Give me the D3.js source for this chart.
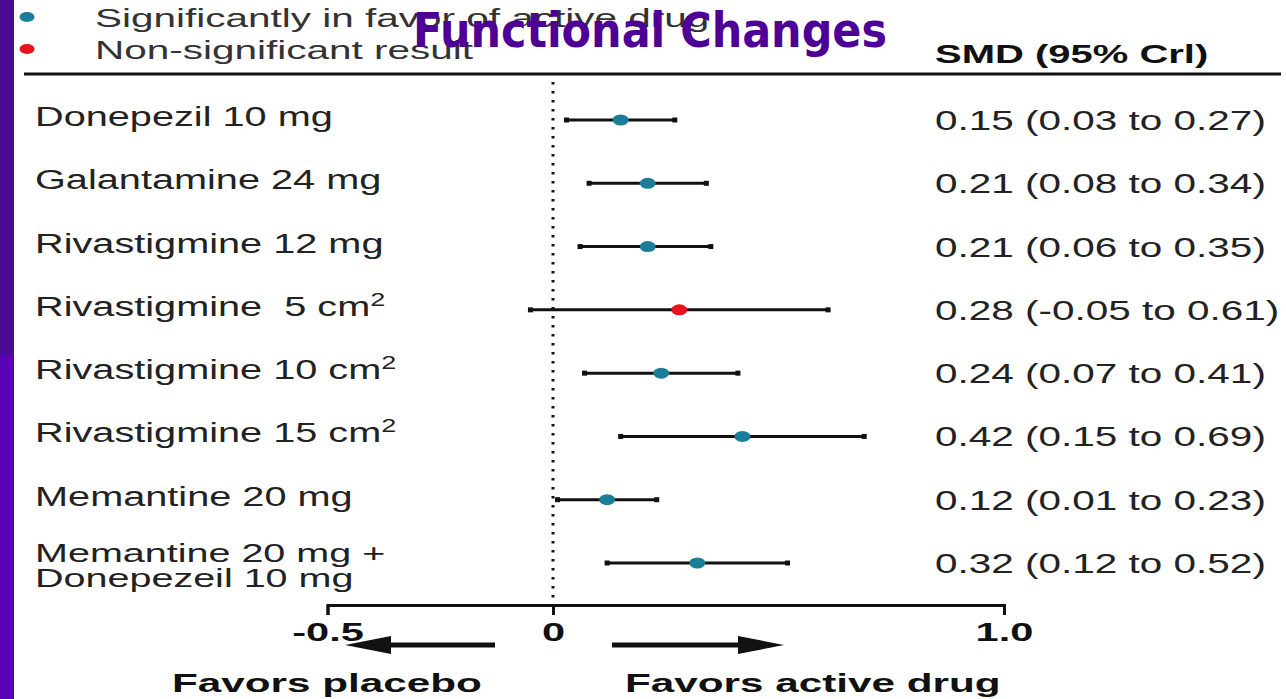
<!DOCTYPE html>
<html>
<head>
<meta charset="utf-8">
<script src="https://cdn.jsdelivr.net/npm/d3@7"></script>
<style>
  html, body { margin: 0; padding: 0; background: #fff; }
  svg { display: block; }
  text { white-space: pre; }
</style>
</head>
<body>
<svg id="chart" width="1286" height="699"></svg>
<script>
// Forest plot data: standardized mean difference with 95% credible interval
const treatments = [
  "Donepezil 10 mg",
  "Galantamine 24 mg",
  "Rivastigmine 12 mg",
  "Rivastigmine  5 cm²",
  "Rivastigmine 10 cm²",
  "Rivastigmine 15 cm²",
  "Memantine 20 mg",
  "Memantine 20 mg +|Donepezeil 10 mg"
];
const smd      = [0.15, 0.21, 0.21, 0.28, 0.24, 0.42, 0.12, 0.32];
const ciLower  = [0.03, 0.08, 0.06, -0.05, 0.07, 0.15, 0.01, 0.12];
const ciUpper  = [0.27, 0.34, 0.35, 0.61, 0.41, 0.69, 0.23, 0.52];
const significant = [true, true, true, false, true, true, true, true];
const axisTicks = [-0.5, 0, 1.0];
const axisTickLabels = ["-0.5", "0", "1.0"];
const legendLabels = ["Significantly in favor of active drug", "Non-significant result"];

const svg = d3.select("#chart");
const W = 1286, H = 699;

const TEAL = "#1b7d97", RED = "#e8121c", INK = "#222";

// side bar
svg.append("rect").attr("x", 0).attr("y", 0).attr("width", 14).attr("height", H).attr("fill", "#5a02b6");
svg.append("rect").attr("x", 0).attr("y", 0).attr("width", 14).attr("height", 355).attr("fill", "#4a0c92");

const x = d3.scaleLinear().domain([-0.5, 1.0]).range([327.5, 1004]);
const y = d3.scalePoint().domain(d3.range(treatments.length)).range([120, 563]);

// text helper: horizontally widened glyphs
function wideText(parent, px, py, str, size, sx, opts = {}) {
  const t = parent.append("text")
    .attr("transform", `translate(${px},${py}) scale(${sx},1)`)
    .attr("font-family", "'Liberation Sans', Arial, sans-serif")
    .attr("font-size", size)
    .attr("font-weight", opts.bold ? "bold" : "normal")
    .attr("fill", opts.fill || INK)
    .attr("text-anchor", opts.anchor || "start");
  const parts = str.split("²");
  parts.forEach((p, i) => {
    if (p) t.append("tspan").text(p);
    if (i < parts.length - 1) {
      t.append("tspan").attr("dy", -size * 0.38).attr("font-size", size * 0.68).text("2");
    }
  });
  return t;
}

// legend
const legend = svg.append("g");
[TEAL, RED].forEach((c, i) => {
  legend.append("ellipse").attr("cx", 27).attr("cy", 17 + i * 32).attr("rx", 7.5).attr("ry", 5).attr("fill", c);
  wideText(legend, 95, 27 + i * 32, legendLabels[i], 25, 1.62, { fill: "#333" });
});

// header
wideText(svg, 935, 63, "SMD (95% Crl)", 25, 1.6, { bold: true, fill: "#111" });
svg.append("line").attr("x1", 24).attr("x2", 1281).attr("y1", 74).attr("y2", 74)
  .attr("stroke", "#111").attr("stroke-width", 3);

// reference line at zero
svg.append("line")
  .attr("x1", x(0)).attr("x2", x(0)).attr("y1", 82).attr("y2", 602)
  .attr("stroke", "#111").attr("stroke-width", 3).attr("stroke-dasharray", "2.5,6.5");

// rows
const rows = svg.append("g").selectAll("g").data(treatments).join("g");

rows.each(function (label, i) {
  const g = d3.select(this);
  const yy = y(i);
  const lines = label.split("|");
  if (lines.length === 1) {
    wideText(g, 35, yy + 6, lines[0], 27, 1.47);
  } else {
    wideText(g, 35, yy - 1, lines[0], 26, 1.52);
    wideText(g, 35, yy + 24, lines[1], 26, 1.52);
  }
  wideText(g, 935, yy + 10,
    `${smd[i].toFixed(2)} (${ciLower[i].toFixed(2)} to ${ciUpper[i].toFixed(2)})`, 27, 1.5);

  g.append("line")
    .attr("x1", x(ciLower[i])).attr("x2", x(ciUpper[i]))
    .attr("y1", yy).attr("y2", yy)
    .attr("stroke", "#111").attr("stroke-width", 3);
  [ciLower[i], ciUpper[i]].forEach(v => {
    g.append("rect").attr("x", x(v) - 2.5).attr("y", yy - 2.5)
      .attr("width", 5).attr("height", 5).attr("fill", "#111");
  });
  g.append("ellipse").attr("cx", x(smd[i])).attr("cy", yy)
    .attr("rx", 8).attr("ry", 5.5)
    .attr("fill", significant[i] ? TEAL : RED);
});

// x axis
const axis = d3.axisBottom(x)
  .tickValues(axisTicks)
  .tickFormat((d, i) => axisTickLabels[i])
  .tickSizeInner(10).tickSizeOuter(10).tickPadding(5);

const ax = svg.append("g").attr("transform", "translate(0,605)").call(axis);
ax.select(".domain").attr("stroke", "#111").attr("stroke-width", 3);
ax.selectAll(".tick line").attr("stroke", "#111").attr("stroke-width", 3);
ax.selectAll(".tick text")
  .attr("font-family", "'Liberation Sans', Arial, sans-serif")
  .attr("font-size", 26).attr("font-weight", "bold").attr("fill", "#111")
  .attr("dy", "0.8em")
  .attr("transform", "scale(1.6,1)");

// direction arrows
const arrows = svg.append("g").attr("fill", "#111").attr("stroke", "#111");
arrows.append("line").attr("x1", 495).attr("x2", 385).attr("y1", 645).attr("y2", 645).attr("stroke-width", 5);
arrows.append("path").attr("d", "M345,645 L391,636 L391,654 Z").attr("stroke", "none");
arrows.append("line").attr("x1", 612).attr("x2", 745).attr("y1", 645).attr("y2", 645).attr("stroke-width", 5);
arrows.append("path").attr("d", "M784,645 L738,636 L738,654 Z").attr("stroke", "none");

wideText(svg, 172, 692, "Favors placebo", 25, 1.69, { bold: true, fill: "#111" });
wideText(svg, 625, 692, "Favors active drug", 25, 1.69, { bold: true, fill: "#111" });

// title
svg.append("text")
  .attr("x", 413).attr("y", 47)
  .attr("font-family", "'DejaVu Sans Condensed', 'DejaVu Sans', sans-serif")
  .attr("font-weight", "bold").attr("font-size", 48)
  .attr("fill", "#4e0096")
  .attr("textLength", 474).attr("lengthAdjust", "spacingAndGlyphs")
  .text("Functional Changes");
</script>
</body>
</html>
